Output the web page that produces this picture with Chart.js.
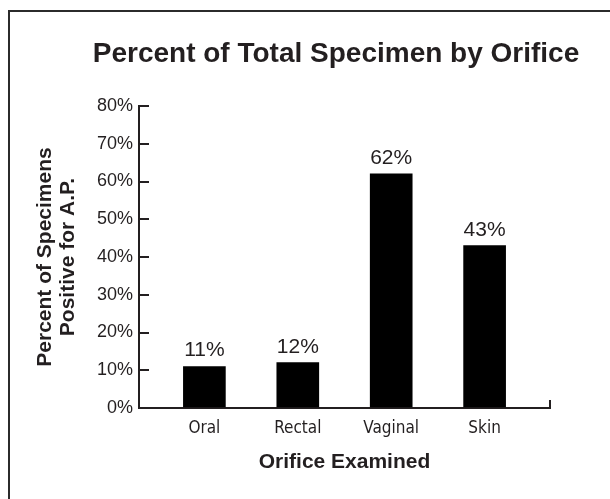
<!DOCTYPE html>
<html>
<head>
<meta charset="utf-8">
<script src="https://cdn.jsdelivr.net/npm/chart.js@4"></script>
<style>
  html, body { margin: 0; padding: 0; background: #fff; }
  canvas { display: block; }
</style>
</head>
<body>
<canvas id="orifice-chart" width="610" height="499"></canvas>
<script>
const categories = ['Oral', 'Rectal', 'Vaginal', 'Skin'];
const percentPositive = [11, 12, 62, 43];
const yTicks = [0, 10, 20, 30, 40, 50, 60, 70, 80];
const chartTitle = 'Percent of Total Specimen by Orifice';
const yTitle = ['Percent of Specimens', 'Positive for A.P.'];
const xTitle = 'Orifice Examined';

const ink = '#231f20';
const sans = '"Liberation Sans", Arial, Helvetica, sans-serif';
const narrow = '"Liberation Sans Narrow", "DejaVu Sans Condensed", "Liberation Sans", sans-serif';
const X_MIN = -0.7, X_MAX = 3.7;

// frame + main title, drawn on the canvas
const framePlugin = {
  id: 'frame',
  beforeDraw(chart) {
    const ctx = chart.ctx;
    ctx.save();
    ctx.fillStyle = '#fff';
    ctx.fillRect(0, 0, chart.width, chart.height);
    ctx.strokeStyle = '#2b2b2b';
    ctx.lineWidth = 2;
    ctx.strokeRect(9, 11, 700, 600);
    ctx.fillStyle = ink;
    ctx.font = 'bold 28px ' + sans;
    ctx.textAlign = 'center';
    ctx.textBaseline = 'alphabetic';
    ctx.fillText(chartTitle, 336, 62);
    ctx.restore();
  }
};

// value labels above the bars
const valueLabels = {
  id: 'valueLabels',
  afterDatasetsDraw(chart) {
    const ctx = chart.ctx;
    const meta = chart.getDatasetMeta(0);
    ctx.save();
    ctx.fillStyle = ink;
    ctx.font = '21px ' + sans;
    ctx.textAlign = 'center';
    ctx.textBaseline = 'alphabetic';
    meta.data.forEach((bar, i) => {
      ctx.fillText(percentPositive[i] + '%', bar.x, bar.y - 10);
    });
    ctx.restore();
  }
};

new Chart(document.getElementById('orifice-chart'), {
  type: 'bar',
  data: {
    datasets: [{
      data: categories.map((c, i) => ({ x: i, y: percentPositive[i] })),
      backgroundColor: '#000',
      borderWidth: 0,
      barThickness: 42
    }]
  },
  plugins: [framePlugin, valueLabels],
  options: {
    responsive: false,
    animation: false,
    devicePixelRatio: 1,
    layout: { padding: { left: 0, right: 60, top: 106, bottom: 0 } },
    plugins: {
      legend: { display: false },
      tooltip: { enabled: false },
      title: { display: false }
    },
    scales: {
      x: {
        type: 'linear',
        offset: false,
        min: X_MIN,
        max: X_MAX,
        afterBuildTicks: (scale) => {
          scale.ticks = categories.map((c, i) => ({ value: i })).concat([{ value: X_MAX }]);
        },
        afterFit: (scale) => { scale.height = 91; },
        ticks: {
          autoSkip: false,
          maxRotation: 0,
          padding: 18,
          color: ink,
          font: { family: narrow, size: 17 },
          callback: (v) => (categories[v] !== undefined ? categories[v] : '')
        },
        grid: {
          offset: false,
          drawOnChartArea: false,
          tickLength: -8,
          lineWidth: 2,
          color: (c) => (c.tick && c.tick.value === X_MAX ? ink : 'rgba(0,0,0,0)')
        },
        border: { display: true, color: ink, width: 2 },
        title: {
          display: true,
          text: xTitle,
          color: ink,
          font: { family: sans, size: 21, weight: 'bold', lineHeight: 1.2 },
          padding: { top: 0, bottom: 24 }
        }
      },
      y: {
        min: 0,
        max: 80,
        afterBuildTicks: (scale) => {
          scale.ticks = yTicks.map((v) => ({ value: v }));
        },
        afterFit: (scale) => { scale.width = 139; },
        ticks: {
          padding: 16,
          color: ink,
          font: { family: sans, size: 18 },
          callback: (v) => v + '%'
        },
        grid: {
          drawOnChartArea: false,
          tickLength: -10,
          lineWidth: 2,
          color: ink
        },
        border: { display: true, color: ink, width: 2 },
        title: {
          display: true,
          text: yTitle,
          color: ink,
          font: { family: sans, size: 21, weight: 'bold', lineHeight: 1.1 },
          padding: { top: 33.5, bottom: 0 }
        }
      }
    }
  }
});
</script>
</body>
</html>
